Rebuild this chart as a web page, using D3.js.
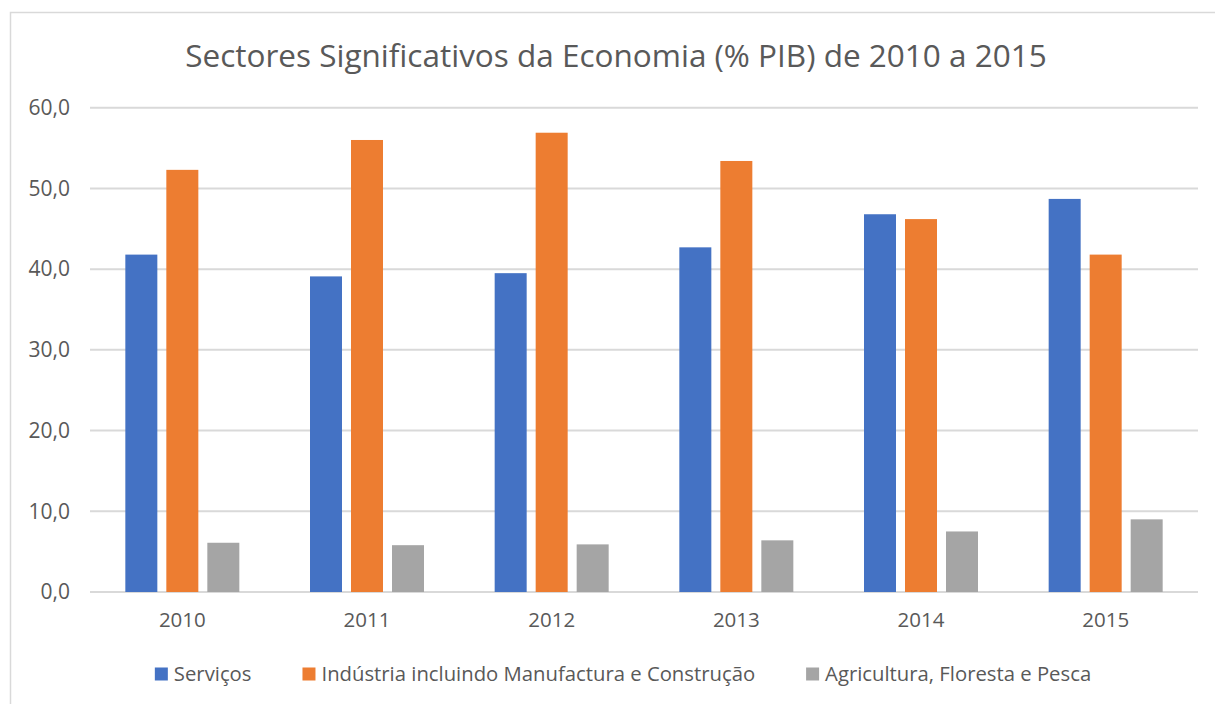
<!DOCTYPE html>
<html>
<head>
<meta charset="utf-8">
<script src="https://cdn.jsdelivr.net/npm/d3@7"></script>
<style>
  html, body { margin: 0; padding: 0; background: #fff; }
  text { font-family: "Open Sans", sans-serif; fill: #595959; }
</style>
</head>
<body>
<div id="chart"></div>
<script>
const years = ['2010', '2011', '2012', '2013', '2014', '2015'];
const seriesNames = [
  'Serviços',
  'Indústria incluindo Manufactura e Construção',
  'Agricultura, Floresta e Pesca'
];
const servicos = [41.8, 39.1, 39.5, 42.7, 46.8, 48.7];
const industria = [52.3, 56.0, 56.9, 53.4, 46.2, 41.8];
const agricultura = [6.1, 5.8, 5.9, 6.4, 7.5, 9.0];
const colors = ['#4472C4', '#ED7D31', '#A5A5A5'];
const yTicks = [0, 10, 20, 30, 40, 50, 60];

const width = 1215;
const height = 704;
const margin = { top: 107.7, right: 17, bottom: 112, left: 90 };

const seriesValues = [servicos, industria, agricultura];
const data = years.map((y, i) => ({
  year: y,
  values: seriesNames.map((name, k) => ({ key: name, value: seriesValues[k][i] }))
}));

const svg = d3.select('#chart')
  .append('svg')
  .attr('width', width)
  .attr('height', height);

// chart area border (runs off the right and bottom edges)
svg.append('rect')
  .attr('x', 10.5)
  .attr('y', 12.5)
  .attr('width', 1230)
  .attr('height', 720)
  .attr('fill', 'none')
  .attr('stroke', '#D9D9D9')
  .attr('stroke-width', 1.5);

const x0 = d3.scaleBand()
  .domain(years)
  .range([margin.left, width - margin.right]);

const groupW = 114;
const x1 = d3.scaleBand()
  .domain(seriesNames)
  .range([(x0.bandwidth() - groupW) / 2, (x0.bandwidth() + groupW) / 2])
  .paddingInner(9 / 41);

const y = d3.scaleLinear()
  .domain([0, 60])
  .range([height - margin.bottom, margin.top]);

const locale = d3.formatLocale({ decimal: ',', thousands: '.', grouping: [3], currency: ['', '€'] });
const fmt = locale.format('.1f');

// gridlines
svg.append('g')
  .selectAll('line')
  .data(yTicks)
  .join('line')
  .attr('x1', margin.left)
  .attr('x2', width - margin.right)
  .attr('y1', d => y(d))
  .attr('y2', d => y(d))
  .attr('stroke', '#D9D9D9')
  .attr('stroke-width', 2);

// y axis labels
const yAxis = d3.axisLeft(y).tickValues(yTicks).tickFormat(fmt).tickSize(0).tickPadding(20);
svg.append('g')
  .attr('transform', `translate(${margin.left},0)`)
  .call(yAxis)
  .call(g => g.select('.domain').remove())
  .selectAll('text')
  .attr('font-size', 21)
  .attr('font-family', '"Open Sans", sans-serif')
  .attr('fill', '#595959');

// x axis labels
const xAxis = d3.axisBottom(x0).tickSize(0).tickPadding(20);
svg.append('g')
  .attr('transform', `translate(0,${y(0)})`)
  .call(xAxis)
  .call(g => g.select('.domain').remove())
  .selectAll('text')
  .attr('font-size', 20.5)
  .attr('font-family', '"Open Sans", sans-serif')
  .attr('fill', '#595959');

// bars
svg.append('g')
  .selectAll('g')
  .data(data)
  .join('g')
  .attr('transform', d => `translate(${x0(d.year)},0)`)
  .selectAll('rect')
  .data(d => d.values)
  .join('rect')
  .attr('x', d => x1(d.key))
  .attr('width', x1.bandwidth())
  .attr('y', d => y(d.value))
  .attr('height', d => y(0) - y(d.value))
  .attr('fill', (d, i) => colors[i]);

// title
svg.append('text')
  .attr('x', 616)
  .attr('y', 67)
  .attr('text-anchor', 'middle')
  .attr('font-size', 31.5)
  .text('Sectores Significativos da Economia (% PIB) de 2010 a 2015');

// legend
const legend = svg.append('g').attr('transform', 'translate(0,674)');
const items = legend.selectAll('g')
  .data(seriesNames)
  .join('g');
items.append('rect')
  .attr('y', -6.5)
  .attr('width', 13)
  .attr('height', 13)
  .attr('fill', (d, i) => colors[i]);
items.append('text')
  .attr('x', 19)
  .attr('dy', '0.35em')
  .attr('font-size', 20.3)
  .text(d => d);

// lay items out side by side, centred under the chart
const itemGap = 51;
let offset = 0;
const widths = [];
items.each(function() {
  widths.push(19 + this.querySelector('text').getComputedTextLength());
});
const total = d3.sum(widths) + itemGap * (widths.length - 1);
offset = 623 - total / 2;
items.attr('transform', (d, i) => {
  const t = `translate(${offset},0)`;
  offset += widths[i] + itemGap;
  return t;
});
</script>
</body>
</html>
